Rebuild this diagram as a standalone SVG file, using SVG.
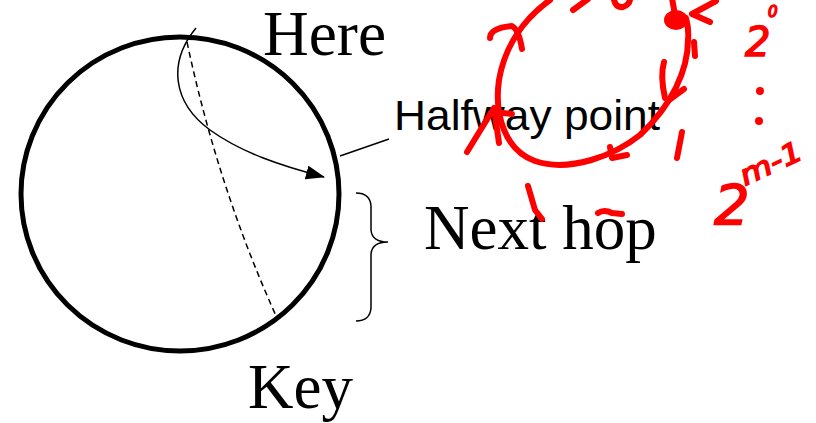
<svg xmlns="http://www.w3.org/2000/svg" width="816" height="423" viewBox="0 0 816 423">
  <style>
    .serif { font-family: "Liberation Serif", "Times New Roman", serif; font-size: 63px; fill: #000; }
    .sans { font-family: "Liberation Sans", Arial, sans-serif; font-size: 42px; fill: #000; }
    .thin { fill: none; stroke: #000; stroke-width: 1.5; }
    .ink { fill: none; stroke: #ff0000; stroke-width: 6; stroke-linecap: round; stroke-linejoin: round; }
    .inktext { font-family: "DejaVu Sans", sans-serif; fill: #ff0000; stroke: #ff0000; stroke-width: 1.5; font-style: italic; }
  </style>
  <defs>
    <marker id="arrow" markerUnits="userSpaceOnUse" markerWidth="20" markerHeight="15" refX="18" refY="7" orient="auto">
      <path d="M0,0 L19,7 L0,14 Z" fill="#000"/>
    </marker>
  </defs>
  <rect width="816" height="423" fill="#fff"/>

  <g id="ring">
    <ellipse cx="180" cy="194" rx="159" ry="157" fill="none" stroke="#000" stroke-width="5"/>
  </g>
  <g id="here"><text class="serif" x="263" y="55" font-size="57" textLength="123" lengthAdjust="spacingAndGlyphs">Here</text></g>
  <g id="key"><text class="serif" x="248" y="408">Key</text></g>
  <g id="halfway"><text class="sans" x="394" y="130" textLength="266" lengthAdjust="spacingAndGlyphs">Halfway point</text></g>
  <g id="nexthop"><text class="serif" x="424" y="249">Next hop</text></g>

  <g id="connectors">
    <path class="thin" d="M196,28 C168,62 172,102 210,130 C242,153 282,166 324,177" marker-end="url(#arrow)"/>
    <path class="thin" d="M187,42 Q218,188 277,318" stroke-dasharray="6,4"/>
    <path class="thin" d="M340,156 L389,139"/>
    <path class="thin" d="M356,193 Q370,193 371,206 L371,230 Q372,242 388,242 Q372,242 371,254 L371,308 Q370,321 356,321"/>
  </g>

  <g id="annotations">
    <path class="ink" d="M550,0 C525,18 505,45 499,80 C494,115 505,150 535,161 C570,173 615,155 640,135 C672,105 688,70 688,40 C689,30 688,25 686,18"/>
    <ellipse cx="676" cy="20" rx="12" ry="10" fill="#ff0000"/>
    <path class="ink" d="M675,15 L672,-2"/>
    <path class="ink" d="M614,0 Q616,8 623,7 Q629,5 630,0"/>
    <path class="ink" d="M573,10 L588,-1"/>
    <path class="ink" d="M716,1 L692,14 L710,22"/>
    <path class="ink" d="M694,42 L695,56"/>
    <path class="ink" d="M664,62 Q660,76 665,98"/>
    <path class="ink" d="M684,89 L669,100"/>
    <path class="ink" d="M467,152 L494,108 L499,143"/>
    <path class="ink" d="M494,112 L512,114"/>
    <path class="ink" d="M490,38 Q490,28 512,26 Q519,30 522,49"/>
    <path class="ink" d="M610,147 L612,158 L627,155"/>
    <path class="ink" d="M682,132 L677,158"/>
    <path class="ink" d="M528,186 L535,210 L542,219"/>
    <path class="ink" d="M598,213 Q604,209 612,213 L622,214"/>
    <circle cx="760" cy="91" r="4" fill="#ff0000"/>
    <circle cx="759" cy="121" r="4" fill="#ff0000"/>
    <text class="inktext" x="745" y="56" font-size="40">2</text>
    <text class="inktext" x="768" y="17" font-size="15">0</text>
    <text class="inktext" x="714" y="224" font-size="56">2</text>
    <text class="inktext" font-size="28" transform="translate(745,186) rotate(-25)" textLength="66" lengthAdjust="spacingAndGlyphs">m-1</text>
  </g>
</svg>
